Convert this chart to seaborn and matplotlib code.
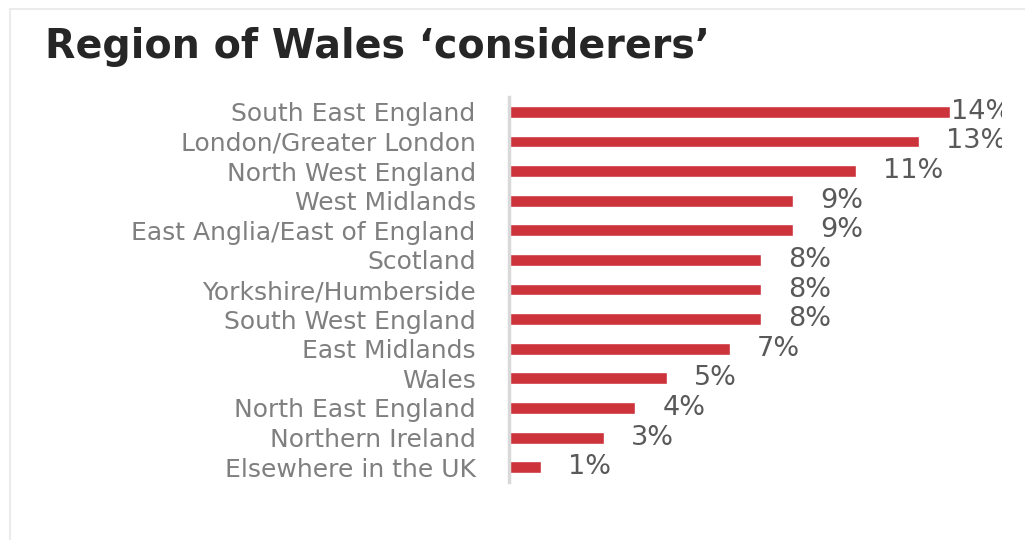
import matplotlib
matplotlib.use("Agg")
import matplotlib.pyplot as plt
import matplotlib.patches as mpatches
import seaborn as sns
import pandas as pd

regions = [
    "South East England",
    "London/Greater London",
    "North West England",
    "West Midlands",
    "East Anglia/East of England",
    "Scotland",
    "Yorkshire/Humberside",
    "South West England",
    "East Midlands",
    "Wales",
    "North East England",
    "Northern Ireland",
    "Elsewhere in the UK",
]
share_pct = [14, 13, 11, 9, 9, 8, 8, 8, 7, 5, 4, 3, 1]

title_text = "Region of Wales \u2018considerers\u2019"

df = pd.DataFrame({"region": regions, "share": share_pct})

sns.set_theme(style="white")
plt.rcParams["font.family"] = ["DejaVu Sans"]

W, H = 1025, 540
fig = plt.figure(figsize=(W / 100, H / 100), dpi=100)
fig.patch.set_facecolor("white")

# faint slide frame
fig.patches.append(mpatches.Rectangle((10 / W, -0.1), 1.2, (H - 9) / H + 0.1,
                                      transform=fig.transFigure, fill=False,
                                      edgecolor="#EBEBEB", linewidth=1.5))

ax = fig.add_axes([509 / W, 1 - 482 / H, (1002 - 509) / W, (482 - 97) / H])
sns.barplot(data=df, x="share", y="region", orient="h", color="#CC333B",
            width=0.40, saturation=1, ax=ax)

ax.set_xlim(0, (1002 - 509) / 31.5)
ax.set_ylim(len(regions) - 0.5, -0.5)
ax.set_xlabel("")
ax.set_ylabel("")
ax.set_xticks([])
for s in ["top", "right", "bottom"]:
    ax.spines[s].set_visible(False)
ax.spines["left"].set_color("#D9D9D9")
ax.spines["left"].set_linewidth(2.5)
ax.tick_params(axis="y", length=0, pad=24, labelsize=18, labelcolor="#7F7F7F")

label_max = 14.03
for i, v in enumerate(share_pct):
    ax.text(min(v + 0.87, label_max), i, f"{v}%", va="center", ha="left",
            fontsize=19.5, color="#595959", clip_on=True)

fig.text(45 / W, 1 - 58 / H, title_text, fontsize=28.5, fontweight="bold",
         color="#262626", family="DejaVu Sans", ha="left", va="baseline")

fig.savefig("out.png", dpi=100, facecolor="white")
